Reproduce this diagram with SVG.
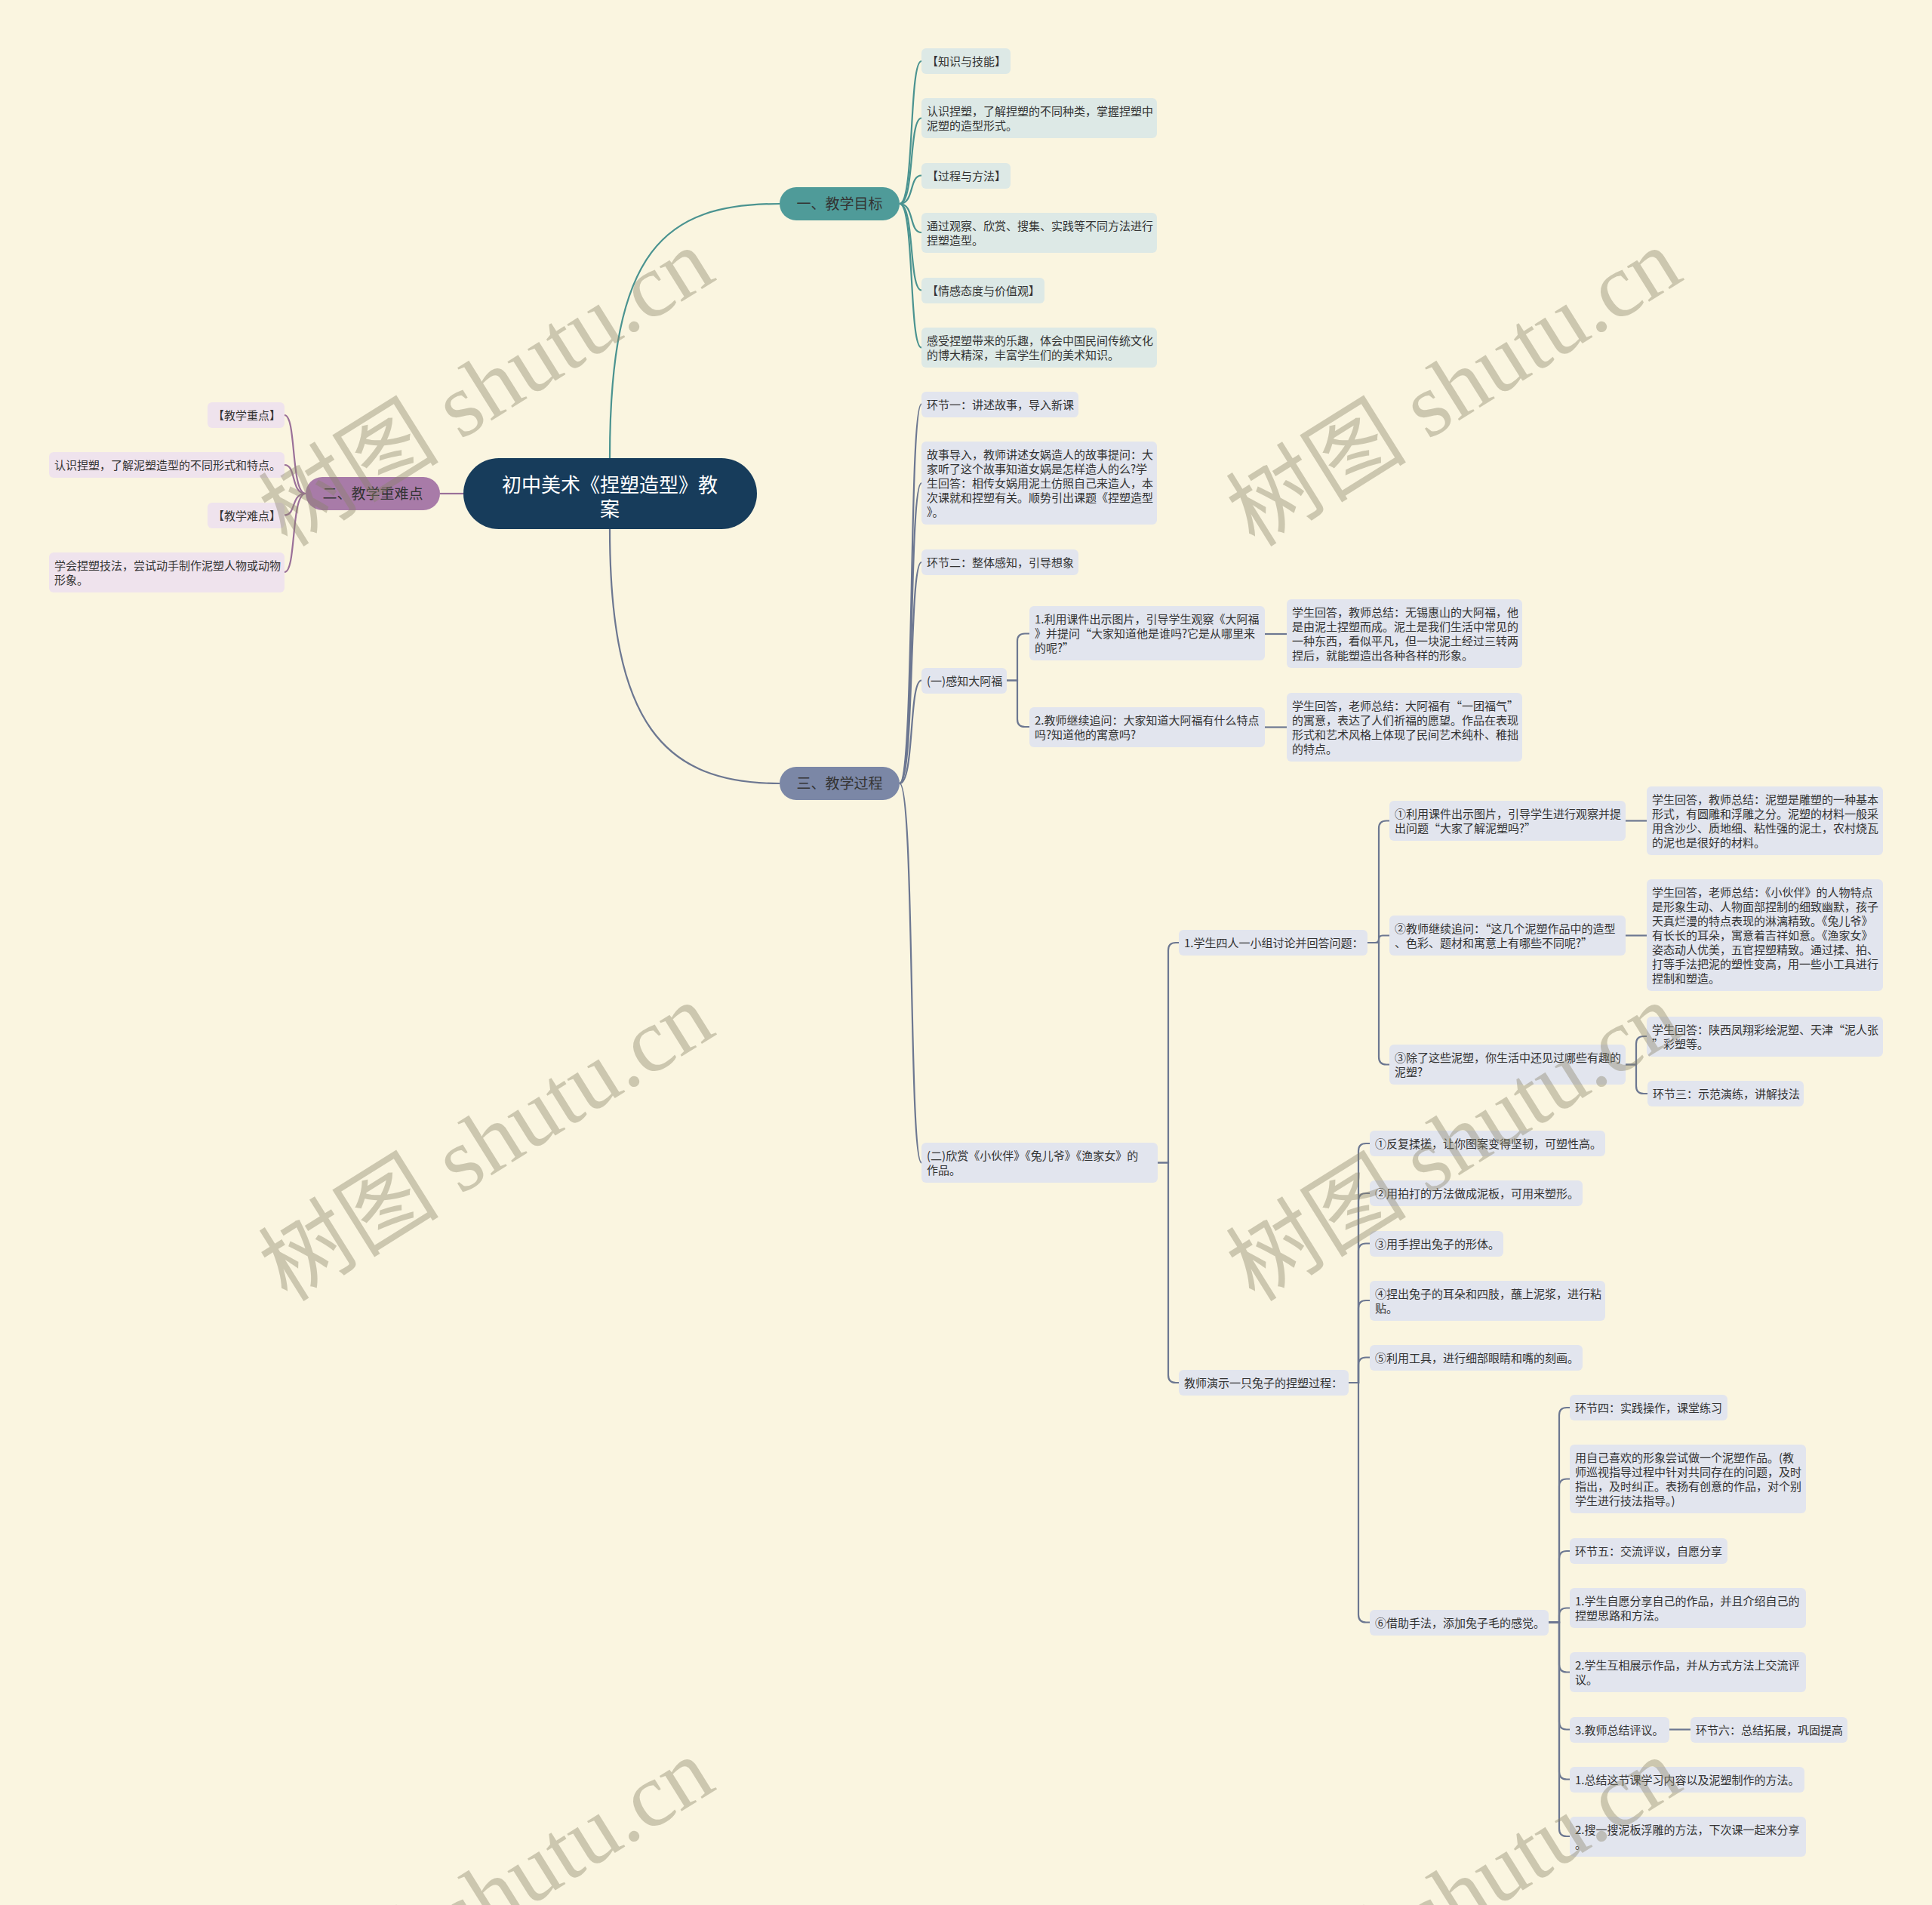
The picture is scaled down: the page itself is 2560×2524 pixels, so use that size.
<svg xmlns="http://www.w3.org/2000/svg" width="2560" height="2524" viewBox="0 0 2560 2524">
<style>
text{font-family:"Noto Sans CJK SC","Noto Sans",sans-serif;}
.t{font-size:15px;fill:#333333;}
.n1{fill:#dde9e6;}
.n2{fill:#efe3ed;}
.n3{fill:#e2e5ee;}
.c1{fill:none;stroke:#4a9390;stroke-width:2.2;}
.c2{fill:none;stroke:#9a7099;stroke-width:2.2;}
.c3{fill:none;stroke:#6c7791;stroke-width:2.2;}
.pt{font-size:19px;fill:#333333;text-anchor:middle;}
.wm{font-family:"Liberation Serif","Noto Sans CJK SC",serif;font-size:120px;fill:#8a8468;opacity:0.4;text-anchor:middle;}
</style>
<rect x="0" y="0" width="2560" height="2524" fill="#faf5e0"/>

<g id="connectors">
  <path class="c1" d="M808,607 C808,330 880,270 1033,270"/>
  <path class="c3" d="M808,700 C808,960 880,1038 1033,1038"/>
  <path class="c2" d="M614,654 L583,654"/>
  <!-- branch 1 -->
  <path class="c1" d="M1192,270 C1212,270 1204,81 1221,81"/>
  <path class="c1" d="M1192,270 C1212,270 1204,156.5 1221,156.5"/>
  <path class="c1" d="M1192,270 C1212,270 1204,232.5 1221,232.5"/>
  <path class="c1" d="M1192,270 C1212,270 1204,308 1221,308"/>
  <path class="c1" d="M1192,270 C1212,270 1204,384.5 1221,384.5"/>
  <path class="c1" d="M1192,270 C1212,270 1204,460.5 1221,460.5"/>
  <!-- branch 2 -->
  <path class="c2" d="M405,654 C385,654 393,550 377,550"/>
  <path class="c2" d="M405,654 C385,654 393,616 377,616"/>
  <path class="c2" d="M405,654 C385,654 393,682.5 377,682.5"/>
  <path class="c2" d="M405,654 C385,654 393,758 377,758"/>
  <!-- branch 3 -->
  <path class="c3" d="M1192,1038 C1212,1038 1204,535.5 1221,535.5"/>
  <path class="c3" d="M1192,1038 C1212,1038 1204,640 1221,640"/>
  <path class="c3" d="M1192,1038 C1212,1038 1204,745 1221,745"/>
  <path class="c3" d="M1192,1038 C1212,1038 1204,901.5 1221,901.5"/>
  <path class="c3" d="M1192,1038 C1212,1038 1204,1540.5 1221,1540.5"/>
  <!-- (一) subtree -->
  <path class="c3" d="M1334,901.5 H1348 V849.5 Q1348,839.5 1358,839.5 H1364"/>
  <path class="c3" d="M1334,901.5 H1348 V953 Q1348,963 1358,963 H1364"/>
  <path class="c3" d="M1676,840 H1705"/>
  <path class="c3" d="M1676,963.5 H1705"/>
  <!-- (二) subtree -->
  <path class="c3" d="M1534,1540.5 H1548 V1259 Q1548,1249 1558,1249 H1562"/>
  <path class="c3" d="M1534,1540.5 H1548 V1822 Q1548,1832 1558,1832 H1562"/>
  <path class="c3" d="M1812,1249 H1827 V1097.5 Q1827,1087.5 1837,1087.5 H1841"/>
  <path class="c3" d="M1812,1249 H1822 Q1827,1249 1827,1244.5 Q1827,1239.5 1832,1239.5 H1841"/>
  <path class="c3" d="M1812,1249 H1827 V1400.5 Q1827,1410.5 1837,1410.5 H1841"/>
  <path class="c3" d="M2154,1087.5 H2182"/>
  <path class="c3" d="M2154,1239.5 H2182"/>
  <path class="c3" d="M2154,1410.5 H2168 V1383 Q2168,1373 2178,1373 H2182"/>
  <path class="c3" d="M2154,1410.5 H2168 V1439 Q2168,1449 2178,1449 H2183"/>
  <!-- 教师演示 subtree -->
  <path class="c3" d="M1787,1832 H1800 V1525 Q1800,1515 1810,1515 H1815"/>
  <path class="c3" d="M1787,1832 H1800 V1591 Q1800,1581 1810,1581 H1815"/>
  <path class="c3" d="M1787,1832 H1800 V1657.5 Q1800,1647.5 1810,1647.5 H1815"/>
  <path class="c3" d="M1787,1832 H1800 V1733 Q1800,1723 1810,1723 H1815"/>
  <path class="c3" d="M1787,1832 H1800 V1808.5 Q1800,1798.5 1810,1798.5 H1815"/>
  <path class="c3" d="M1787,1832 H1800 V2139.5 Q1800,2149.5 1810,2149.5 H1815"/>
  <!-- ⑥ subtree -->
  <path class="c3" d="M2051,2149.5 H2066 V1875 Q2066,1865 2076,1865 H2080"/>
  <path class="c3" d="M2051,2149.5 H2066 V1969.5 Q2066,1959.5 2076,1959.5 H2080"/>
  <path class="c3" d="M2051,2149.5 H2066 V2065 Q2066,2055 2076,2055 H2080"/>
  <path class="c3" d="M2051,2149.5 H2066 V2140.5 Q2066,2130.5 2076,2130.5 H2080"/>
  <path class="c3" d="M2051,2149.5 H2066 V2205.5 Q2066,2215.5 2076,2215.5 H2080"/>
  <path class="c3" d="M2051,2149.5 H2066 V2281.5 Q2066,2291.5 2076,2291.5 H2080"/>
  <path class="c3" d="M2051,2149.5 H2066 V2347.5 Q2066,2357.5 2076,2357.5 H2080"/>
  <path class="c3" d="M2051,2149.5 H2066 V2423 Q2066,2433 2076,2433 H2080"/>
  <path class="c3" d="M2212,2291.5 H2240"/>
</g>

<g id="root">
  <rect x="614" y="607" width="389" height="94" rx="47" fill="#173c5b"/>
  <text x="808" y="652" font-size="26" fill="#ffffff" text-anchor="middle">初中美术《捏塑造型》教</text>
  <text x="808" y="684" font-size="26" fill="#ffffff" text-anchor="middle">案</text>
</g>

<g id="b1">
  <rect x="1033" y="248" width="159" height="44" rx="22" fill="#4f9b99"/>
  <text class="pt" x="1112.5" y="277">一、教学目标</text>
</g>
<g id="b2">
  <rect x="405" y="632" width="178" height="44" rx="22" fill="#a87ba8"/>
  <text class="pt" x="494" y="661">二、教学重难点</text>
</g>
<g id="b3">
  <rect x="1033" y="1016" width="159" height="44" rx="22" fill="#7b87a6"/>
  <text class="pt" x="1112.5" y="1045">三、教学过程</text>
</g>

<!-- branch 1 leaves -->
<g id="b1-1"><rect class="n1" x="1221" y="64" width="118" height="34" rx="6"/><text class="t" x="1228" y="87">【知识与技能】</text></g>
<g id="b1-2"><rect class="n1" x="1221" y="130" width="312" height="53" rx="6"/><text class="t" x="1228" y="153">认识捏塑，了解捏塑的不同种类，掌握捏塑中</text><text class="t" x="1228" y="172">泥塑的造型形式。</text></g>
<g id="b1-3"><rect class="n1" x="1221" y="216" width="118" height="34" rx="6"/><text class="t" x="1228" y="239">【过程与方法】</text></g>
<g id="b1-4"><rect class="n1" x="1221" y="282" width="312" height="53" rx="6"/><text class="t" x="1228" y="305">通过观察、欣赏、搜集、实践等不同方法进行</text><text class="t" x="1228" y="324">捏塑造型。</text></g>
<g id="b1-5"><rect class="n1" x="1221" y="368" width="163" height="34" rx="6"/><text class="t" x="1228" y="391">【情感态度与价值观】</text></g>
<g id="b1-6"><rect class="n1" x="1221" y="434" width="312" height="53" rx="6"/><text class="t" x="1228" y="457">感受捏塑带来的乐趣，体会中国民间传统文化</text><text class="t" x="1228" y="476">的博大精深，丰富学生们的美术知识。</text></g>

<!-- branch 2 leaves -->
<g id="b2-1"><rect class="n2" x="275" y="533" width="102" height="34" rx="6"/><text class="t" x="282" y="556">【教学重点】</text></g>
<g id="b2-2"><rect class="n2" x="65" y="599" width="312" height="34" rx="6"/><text class="t" x="72" y="622">认识捏塑，了解泥塑造型的不同形式和特点。</text></g>
<g id="b2-3"><rect class="n2" x="275" y="666" width="102" height="34" rx="6"/><text class="t" x="282" y="689">【教学难点】</text></g>
<g id="b2-4"><rect class="n2" x="65" y="732" width="312" height="53" rx="6"/><text class="t" x="72" y="755">学会捏塑技法，尝试动手制作泥塑人物或动物</text><text class="t" x="72" y="774">形象。</text></g>

<!-- branch 3 -->
<g id="b3-1"><rect class="n3" x="1221" y="519" width="208" height="34" rx="6"/><text class="t" x="1228" y="542">环节一：讲述故事，导入新课</text></g>
<g id="b3-2"><rect class="n3" x="1221" y="585" width="312" height="110" rx="6"/>
  <text class="t" x="1228" y="608">故事导入，教师讲述女娲造人的故事提问：大</text>
  <text class="t" x="1228" y="627">家听了这个故事知道女娲是怎样造人的么?学</text>
  <text class="t" x="1228" y="646">生回答：相传女娲用泥土仿照自己来造人，本</text>
  <text class="t" x="1228" y="665">次课就和捏塑有关。顺势引出课题《捏塑造型</text>
  <text class="t" x="1228" y="684">》。</text></g>
<g id="b3-3"><rect class="n3" x="1221" y="728" width="208" height="34" rx="6"/><text class="t" x="1228" y="751">环节二：整体感知，引导想象</text></g>
<g id="b3-4"><rect class="n3" x="1221" y="885" width="113" height="34" rx="6"/><text class="t" x="1228" y="908">(一)感知大阿福</text></g>
<g id="b3-4-1"><rect class="n3" x="1364" y="803" width="312" height="72" rx="6"/>
  <text class="t" x="1371" y="826">1.利用课件出示图片，引导学生观察《大阿福</text>
  <text class="t" x="1371" y="845">》并提问“大家知道他是谁吗?它是从哪里来</text>
  <text class="t" x="1371" y="864">的呢?”</text></g>
<g id="b3-4-2"><rect class="n3" x="1364" y="937" width="312" height="53" rx="6"/>
  <text class="t" x="1371" y="960">2.教师继续追问：大家知道大阿福有什么特点</text>
  <text class="t" x="1371" y="979">吗?知道他的寓意吗?</text></g>
<g id="b3-4-1-1"><rect class="n3" x="1705" y="794" width="312" height="91" rx="6"/>
  <text class="t" x="1712" y="817">学生回答，教师总结：无锡惠山的大阿福，他</text>
  <text class="t" x="1712" y="836">是由泥土捏塑而成。泥土是我们生活中常见的</text>
  <text class="t" x="1712" y="855">一种东西，看似平凡，但一块泥土经过三转两</text>
  <text class="t" x="1712" y="874">捏后，就能塑造出各种各样的形象。</text></g>
<g id="b3-4-2-1"><rect class="n3" x="1705" y="918" width="312" height="91" rx="6"/>
  <text class="t" x="1712" y="941">学生回答，老师总结：大阿福有“一团福气”</text>
  <text class="t" x="1712" y="960">的寓意，表达了人们祈福的愿望。作品在表现</text>
  <text class="t" x="1712" y="979">形式和艺术风格上体现了民间艺术纯朴、稚拙</text>
  <text class="t" x="1712" y="998">的特点。</text></g>

<g id="b3-5"><rect class="n3" x="1221" y="1514" width="313" height="53" rx="6"/>
  <text class="t" x="1228" y="1537">(二)欣赏《小伙伴》《兔儿爷》《渔家女》的</text>
  <text class="t" x="1228" y="1556">作品。</text></g>
<g id="b3-5-1"><rect class="n3" x="1562" y="1232" width="250" height="34" rx="6"/><text class="t" x="1569" y="1255">1.学生四人一小组讨论并回答问题：</text></g>
<g id="q1"><rect class="n3" x="1841" y="1061" width="313" height="53" rx="6"/>
  <text class="t" x="1848" y="1084">①利用课件出示图片，引导学生进行观察并提</text>
  <text class="t" x="1848" y="1103">出问题“大家了解泥塑吗?”</text></g>
<g id="q2"><rect class="n3" x="1841" y="1213" width="313" height="53" rx="6"/>
  <text class="t" x="1848" y="1236">②教师继续追问：“这几个泥塑作品中的造型</text>
  <text class="t" x="1848" y="1255">、色彩、题材和寓意上有哪些不同呢?”</text></g>
<g id="q3"><rect class="n3" x="1841" y="1384" width="313" height="53" rx="6"/>
  <text class="t" x="1848" y="1407">③除了这些泥塑，你生活中还见过哪些有趣的</text>
  <text class="t" x="1848" y="1426">泥塑?</text></g>
<g id="a1"><rect class="n3" x="2182" y="1042" width="313" height="91" rx="6"/>
  <text class="t" x="2189" y="1065">学生回答，教师总结：泥塑是雕塑的一种基本</text>
  <text class="t" x="2189" y="1084">形式，有圆雕和浮雕之分。泥塑的材料一般采</text>
  <text class="t" x="2189" y="1103">用含沙少、质地细、粘性强的泥土，农村烧瓦</text>
  <text class="t" x="2189" y="1122">的泥也是很好的材料。</text></g>
<g id="a2"><rect class="n3" x="2182" y="1165" width="313" height="148" rx="6"/>
  <text class="t" x="2189" y="1188">学生回答，老师总结：《小伙伴》的人物特点</text>
  <text class="t" x="2189" y="1207">是形象生动、人物面部捏制的细致幽默，孩子</text>
  <text class="t" x="2189" y="1226">天真烂漫的特点表现的淋漓精致。《兔儿爷》</text>
  <text class="t" x="2189" y="1245">有长长的耳朵，寓意着吉祥如意。《渔家女》</text>
  <text class="t" x="2189" y="1264">姿态动人优美，五官捏塑精致。通过揉、拍、</text>
  <text class="t" x="2189" y="1283">打等手法把泥的塑性变高，用一些小工具进行</text>
  <text class="t" x="2189" y="1302">捏制和塑造。</text></g>
<g id="a3"><rect class="n3" x="2182" y="1347" width="313" height="53" rx="6"/>
  <text class="t" x="2189" y="1370">学生回答：陕西凤翔彩绘泥塑、天津“泥人张</text>
  <text class="t" x="2189" y="1389">”彩塑等。</text></g>
<g id="a4"><rect class="n3" x="2183" y="1432" width="207" height="34" rx="6"/><text class="t" x="2190" y="1455">环节三：示范演练，讲解技法</text></g>

<g id="b3-5-2"><rect class="n3" x="1562" y="1815" width="225" height="34" rx="6"/><text class="t" x="1569" y="1838">教师演示一只兔子的捏塑过程：</text></g>
<g id="s1"><rect class="n3" x="1815" y="1498" width="312" height="34" rx="6"/><text class="t" x="1822" y="1521">①反复揉搓，让你图案变得坚韧，可塑性高。</text></g>
<g id="s2"><rect class="n3" x="1815" y="1564" width="282" height="34" rx="6"/><text class="t" x="1822" y="1587">②用拍打的方法做成泥板，可用来塑形。</text></g>
<g id="s3"><rect class="n3" x="1815" y="1631" width="177" height="34" rx="6"/><text class="t" x="1822" y="1654">③用手捏出兔子的形体。</text></g>
<g id="s4"><rect class="n3" x="1815" y="1697" width="312" height="53" rx="6"/>
  <text class="t" x="1822" y="1720">④捏出兔子的耳朵和四肢，蘸上泥浆，进行粘</text>
  <text class="t" x="1822" y="1739">贴。</text></g>
<g id="s5"><rect class="n3" x="1815" y="1782" width="282" height="34" rx="6"/><text class="t" x="1822" y="1805">⑤利用工具，进行细部眼睛和嘴的刻画。</text></g>
<g id="s6"><rect class="n3" x="1815" y="2133" width="237" height="34" rx="6"/><text class="t" x="1822" y="2156">⑥借助手法，添加兔子毛的感觉。</text></g>

<g id="p1"><rect class="n3" x="2080" y="1848" width="209" height="34" rx="6"/><text class="t" x="2087" y="1871">环节四：实践操作，课堂练习</text></g>
<g id="p2"><rect class="n3" x="2080" y="1914" width="313" height="91" rx="6"/>
  <text class="t" x="2087" y="1937">用自己喜欢的形象尝试做一个泥塑作品。(教</text>
  <text class="t" x="2087" y="1956">师巡视指导过程中针对共同存在的问题，及时</text>
  <text class="t" x="2087" y="1975">指出，及时纠正。表扬有创意的作品，对个别</text>
  <text class="t" x="2087" y="1994">学生进行技法指导。)</text></g>
<g id="p3"><rect class="n3" x="2080" y="2038" width="209" height="34" rx="6"/><text class="t" x="2087" y="2061">环节五：交流评议，自愿分享</text></g>
<g id="p4"><rect class="n3" x="2080" y="2104" width="313" height="53" rx="6"/>
  <text class="t" x="2087" y="2127">1.学生自愿分享自己的作品，并且介绍自己的</text>
  <text class="t" x="2087" y="2146">捏塑思路和方法。</text></g>
<g id="p5"><rect class="n3" x="2080" y="2189" width="313" height="53" rx="6"/>
  <text class="t" x="2087" y="2212">2.学生互相展示作品，并从方式方法上交流评</text>
  <text class="t" x="2087" y="2231">议。</text></g>
<g id="p6"><rect class="n3" x="2080" y="2275" width="132" height="34" rx="6"/><text class="t" x="2087" y="2298">3.教师总结评议。</text></g>
<g id="p6-1"><rect class="n3" x="2240" y="2275" width="208" height="34" rx="6"/><text class="t" x="2247" y="2298">环节六：总结拓展，巩固提高</text></g>
<g id="p7"><rect class="n3" x="2080" y="2341" width="311" height="34" rx="6"/><text class="t" x="2087" y="2364">1.总结这节课学习内容以及泥塑制作的方法。</text></g>
<g id="p8"><rect class="n3" x="2080" y="2407" width="313" height="53" rx="6"/>
  <text class="t" x="2087" y="2430">2.搜一搜泥板浮雕的方法，下次课一起来分享</text>
  <text class="t" x="2087" y="2449">。</text></g>

<g id="watermark">
  <text class="wm" transform="translate(645,514) rotate(-32)" x="0" y="40">树图 shutu.cn</text>
  <text class="wm" transform="translate(1927,514) rotate(-32)" x="0" y="40">树图 shutu.cn</text>
  <text class="wm" transform="translate(645,1514) rotate(-32)" x="0" y="40">树图 shutu.cn</text>
  <text class="wm" transform="translate(1927,1514) rotate(-32)" x="0" y="40">树图 shutu.cn</text>
  <text class="wm" transform="translate(645,2514) rotate(-32)" x="0" y="40">树图 shutu.cn</text>
  <text class="wm" transform="translate(1927,2514) rotate(-32)" x="0" y="40">树图 shutu.cn</text>
</g>
</svg>
